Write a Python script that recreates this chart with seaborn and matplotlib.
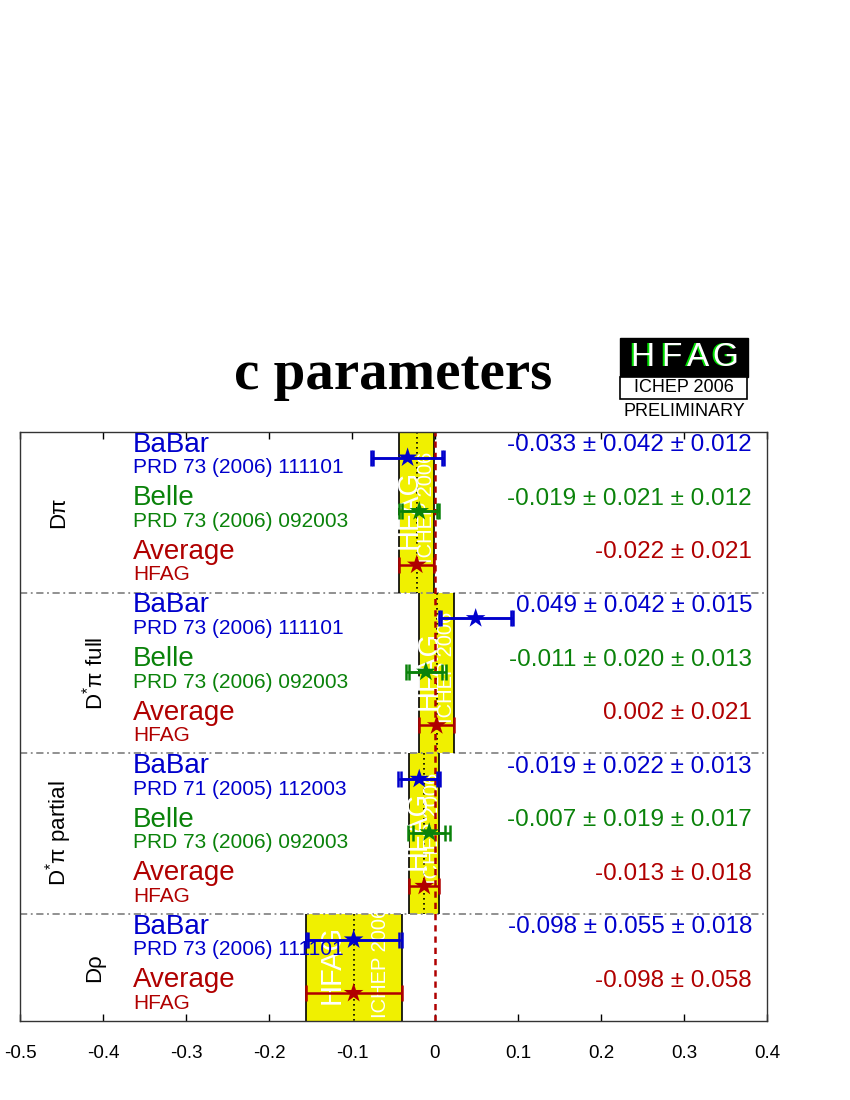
import numpy as np
import matplotlib
matplotlib.use("Agg")
import matplotlib.pyplot as plt
from matplotlib.patches import Rectangle
import seaborn as sns
import pandas as pd

# data
sections = ["Dπ", "D$^{*}$π full", "D$^{*}$π partial", "Dρ"]
section_rows = [3, 3, 3, 2]

names = ["BaBar", "Belle", "Average",
         "BaBar", "Belle", "Average",
         "BaBar", "Belle", "Average",
         "BaBar", "Average"]
refs = ["PRD 73 (2006) 111101", "PRD 73 (2006) 092003", "HFAG",
        "PRD 73 (2006) 111101", "PRD 73 (2006) 092003", "HFAG",
        "PRD 71 (2005) 112003", "PRD 73 (2006) 092003", "HFAG",
        "PRD 73 (2006) 111101", "HFAG"]
values = [-0.033, -0.019, -0.022,
          0.049, -0.011, 0.002,
          -0.019, -0.007, -0.013,
          -0.098, -0.098]
stat_err = [0.042, 0.021, 0.021,
            0.042, 0.020, 0.021,
            0.022, 0.019, 0.018,
            0.055, 0.058]
syst_err = [0.012, 0.012, None,
            0.015, 0.013, None,
            0.013, 0.017, None,
            0.018, None]

colors = {"BaBar": "#0000CC", "Belle": "#0A820A", "Average": "#B00000"}
yellow = "#F0F000"

sns.set_style("white")
plt.rcParams["font.family"] = ["Liberation Sans", "DejaVu Sans"]
plt.rcParams["text.color"] = "black"
plt.rcParams["xtick.color"] = "black"
plt.rcParams["mathtext.fontset"] = "custom"
plt.rcParams["mathtext.rm"] = "Liberation Sans"
plt.rcParams["mathtext.it"] = "Liberation Sans"

fig = plt.figure(figsize=(8.5, 11), dpi=100)
ax = fig.add_axes([20 / 850, 1 - 1021 / 1100, 747 / 850, 589 / 1100])

n = len(names)
rows = np.arange(n)
df = pd.DataFrame({"row": rows, "name": names, "ref": refs, "value": values,
                   "stat": stat_err,
                   "total": [np.hypot(s, y) if y is not None else s for s, y in zip(stat_err, syst_err)]})
df["ymark"] = df["row"] + 0.48

ax.set_xlim(-0.5, 0.4)
ax.set_ylim(n, 0)

# yellow average bands per section
start = 0
for k, (sec, nr) in enumerate(zip(sections, section_rows)):
    avg = df.iloc[start + nr - 1]
    lo, hi = avg["value"] - avg["stat"], avg["value"] + avg["stat"]
    ax.fill_betweenx([start, start + nr], lo, hi, color=yellow, lw=0, zorder=1)
    ax.vlines([lo, hi], start, start + nr, color="black", lw=1.2, zorder=2)
    ax.vlines(avg["value"], start, start + nr, color="black", lw=1.2,
              linestyles=(0, (1, 2)), zorder=2)
    clip = Rectangle((lo, start), hi - lo, nr, transform=ax.transData)
    w = hi - lo
    mid = start + nr / 2
    t1 = ax.text(lo + 0.27 * w, mid - 0.05, "HFAG", rotation=90, color="white",
                 fontsize=21, ha="center", va="center", zorder=2)
    t2 = ax.text(lo + 0.78 * w, mid - 0.1, "ICHEP 2006", rotation=90, color="white",
                 fontsize=14.5, ha="center", va="center", zorder=2)
    t1.set_clip_path(clip)
    t2.set_clip_path(clip)
    # section label
    xl = -0.454 if k in (0, 2) else -0.41
    ax.text(xl, mid, sec, rotation=90, fontsize=16, ha="center", va="center")
    if start > 0:
        ax.axhline(start, color="#888888", lw=1.3, ls=(0, (4, 2, 1, 2)), zorder=1.5)
    start += nr

# zero line
ax.axvline(0, color="#B00000", lw=1.8, ls=(0, (2.5, 2)), zorder=2.5)

# texts
for _, r in df.iterrows():
    c = colors[r["name"]]
    ax.text(-0.364, r["row"] + 0.24, r["name"], color=c, fontsize=20, va="center", ha="left", zorder=3)
    ax.text(-0.364, r["row"] + 0.67, r["ref"], color=c, fontsize=15, va="center", ha="left", zorder=3)
    if r["name"] == "Average":
        s = f"{r['value']:.3f} ± {r['stat']:.3f}"
    else:
        s = f"{r['value']:.3f} ± {r['stat']:.3f} ± {syst_err[int(r['row'])]:.3f}"
    ax.text(0.382, r["row"] + 0.25, s, color=c, fontsize=17.5, va="center", ha="right", zorder=3)

# error bars
for _, r in df.iterrows():
    c = colors[r["name"]]
    ax.errorbar(r["value"], r["ymark"], xerr=r["total"], fmt="none", ecolor=c,
                elinewidth=1.8, capsize=6, capthick=1.8, zorder=4)
    if r["name"] != "Average":
        ax.errorbar(r["value"], r["ymark"], xerr=r["stat"], fmt="none", ecolor=c,
                    elinewidth=1.8, capsize=6, capthick=1.8, zorder=4)

sns.scatterplot(data=df, x="value", y="ymark", hue="name", palette=colors,
                marker="*", s=220, edgecolor="none", legend=False, ax=ax, zorder=5)

ax.set_xlabel("")
ax.set_ylabel("")
ax.set_yticks([])
ax.set_xticks(np.arange(-0.5, 0.41, 0.1))
ax.set_xticklabels(["-0.5", "-0.4", "-0.3", "-0.2", "-0.1", "0", "0.1", "0.2", "0.3", "0.4"])
ax.tick_params(axis="x", direction="in", top=True, bottom=True, length=5, width=1,
               labelsize=13.5, pad=17, color="black", labelcolor="black")
for sp in ax.spines.values():
    sp.set_color("#333333")
    sp.set_linewidth(1)

# title
fig.text(393 / 850, 1 - 375 / 1100, "c parameters", family=["Liberation Serif", "DejaVu Serif"],
         fontweight="bold", fontsize=41, ha="center", va="center", color="black")

# HFAG logo
def fy(p):
    return 1 - p / 1100

fig.add_artist(Rectangle((620 / 850, fy(377)), 128 / 850, 39 / 1100, transform=fig.transFigure,
                         facecolor="black", edgecolor="black"))
fig.add_artist(Rectangle((620 / 850, fy(399)), 127 / 850, 22 / 1100, transform=fig.transFigure,
                         facecolor="white", edgecolor="black", lw=1.2))
for letter, xc in zip("HFAG", [642, 671, 698, 725]):
    fig.text((xc - 2) / 850, fy(358), letter, color="#00DD00", fontsize=24, ha="center", va="center")
    fig.text(xc / 850, fy(358), letter, color="white", fontsize=24, ha="center", va="center")
fig.text(684 / 850, fy(388), "ICHEP 2006", fontsize=13, ha="center", va="center", color="black")
fig.text(684 / 850, fy(412), "PRELIMINARY", fontsize=13, ha="center", va="center", color="black")

plt.savefig("out.png", dpi=100)
